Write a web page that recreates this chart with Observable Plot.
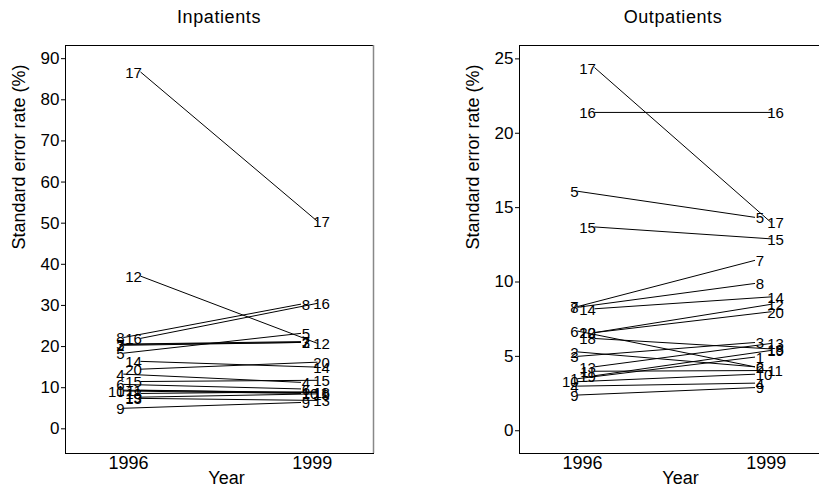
<!DOCTYPE html>
<html>
<head>
<meta charset="utf-8">
<script src="https://cdn.jsdelivr.net/npm/d3@7"></script>
<script src="https://cdn.jsdelivr.net/npm/@observablehq/plot@0.6"></script>
<style>
  html, body { margin: 0; padding: 0; background: #fff; }
  #wrap { position: relative; width: 819px; height: 487px; overflow: hidden; background: #fff; font-family: "Liberation Sans", Arial, sans-serif; }
  .panel { position: absolute; top: 0; }
  .ttl { position: absolute; top: 7px; font-size: 18px; letter-spacing: 0.6px; color: #000; text-align: center; }
</style>
</head>
<body>
<div id="wrap"></div>
<script>
// ---- data ----
const units = [1,2,3,4,5,6,7,8,9,10,11,12,13,14,15,16,17,18,19,20];
const years = [1996, 1999];
const inpatients1996 = [9.4,20.3,20.5,13.3,18.4,10.8,20.6,22.2,5.0,9.2,9.4,37.1,7.4,16.4,11.5,22.0,86.7,8.6,7.7,14.5];
const inpatients1999 = [8.8,21.0,21.0,11.3,23.2,9.7,21.2,30.3,6.4,8.6,8.8,20.8,6.9,15.0,11.8,30.5,50.5,9.0,8.5,16.2];
const outpatients1996 = [3.5,5.3,5.0,3.0,16.1,6.7,8.35,8.3,2.4,3.3,4.0,6.6,4.3,8.2,13.7,21.4,24.4,6.2,3.7,6.6];
const outpatients1999 = [4.95,4.3,5.93,3.2,14.35,4.3,11.45,9.9,2.9,3.8,4.05,8.5,5.87,9.0,12.9,21.4,14.0,5.5,5.4,8.0];
const inpatientTicks = [0,10,20,30,40,50,60,70,80,90];
const outpatientTicks = [0,5,10,15,20,25];
const panelTitles = ["Inpatients", "Outpatients"];
const yTitle = "Standard error rate (%)";
const xTitle = "Year";

// ---- drawing ----
const W = 410, H = 487;
const xDomain = [1994.97, 2000.0];
// horizontal nudges (in years) of the end points for the two label groups
const nudge = {A: {1996: -0.08, 1999: -0.19}, B: {1996: 0.2, 1999: 0.08}};

function build(v96, v99) {
  const rows = [];
  units.forEach((u, i) => {
    const g = u <= 10 ? "A" : "B";
    rows.push({unit: u, year: 1996, g, v: v96[i], x: 1996 + nudge[g][1996]});
    rows.push({unit: u, year: 1999, g, v: v99[i], x: 1999 + nudge[g][1999]});
  });
  return rows;
}

function panel(rows, yDomain, ticks, left, showRightBorder) {
  const width = left === 0 ? W : 373;
  const p = Plot.plot({
    width, height: H,
    marginLeft: 65, marginRight: width - 373, marginTop: 45, marginBottom: 34,
    style: {fontFamily: "Liberation Sans, Arial, sans-serif", background: "#fff", overflow: "visible"},
    x: {domain: xDomain, axis: null},
    y: {domain: yDomain, axis: null},
    marks: [
      Plot.frame({stroke: "#000"}),
      showRightBorder ? Plot.ruleX([xDomain[1]], {stroke: "#888", strokeWidth: 1.5}) : null,
      Plot.axisY(ticks, {tickSize: 4, tickPadding: 2, fontSize: 17, label: null, stroke: "#000", fill: "#000"}),
      Plot.text([yTitle], {frameAnchor: "left", dx: -46, rotate: -90, fontSize: 18, text: d => d, fill: "#000"}),
      Plot.text(years, {x: d => d, frameAnchor: "bottom", lineAnchor: "top", dy: 3, fontSize: 18, text: d => String(d), fill: "#000"}),
      Plot.text([xTitle], {x: 1997.6, frameAnchor: "bottom", lineAnchor: "top", dy: 18, fontSize: 18, text: d => d, fill: "#000"}),
      Plot.line(rows, {x: "x", y: "v", z: "unit", stroke: "#000", strokeWidth: 1}),
      Plot.text(rows.filter(r => r.year === 1996), {x: "x", y: "v", text: d => String(d.unit), textAnchor: "end", dx: 1, dy: 1, fontSize: 15, fill: "#000"}),
      Plot.text(rows.filter(r => r.year === 1999 && r.g === "A"), {x: "x", y: "v", text: d => String(d.unit), textAnchor: "start", dx: 1, dy: 1, fontSize: 15, fill: "#000"}),
      Plot.text(rows.filter(r => r.year === 1999 && r.g === "B"), {x: "x", y: "v", text: d => String(d.unit), textAnchor: "start", dx: -4, dy: 1, fontSize: 15, fill: "#000"})
    ].filter(Boolean)
  });
  p.classList.add("panel");
  p.style.left = left + "px";
  return p;
}

const wrap = document.getElementById("wrap");
wrap.appendChild(panel(build(inpatients1996, inpatients1999), [-6, 93.2], inpatientTicks, 0, true));
wrap.appendChild(panel(build(outpatients1996, outpatients1999), [-1.53, 25.9], outpatientTicks, 454, false));

[[panelTitles[0], 65], [panelTitles[1], 519]].forEach(([t, l]) => {
  const d = document.createElement("div");
  d.className = "ttl";
  d.style.left = l + "px";
  d.style.width = "308px";
  d.textContent = t;
  wrap.appendChild(d);
});
</script>
</body>
</html>
